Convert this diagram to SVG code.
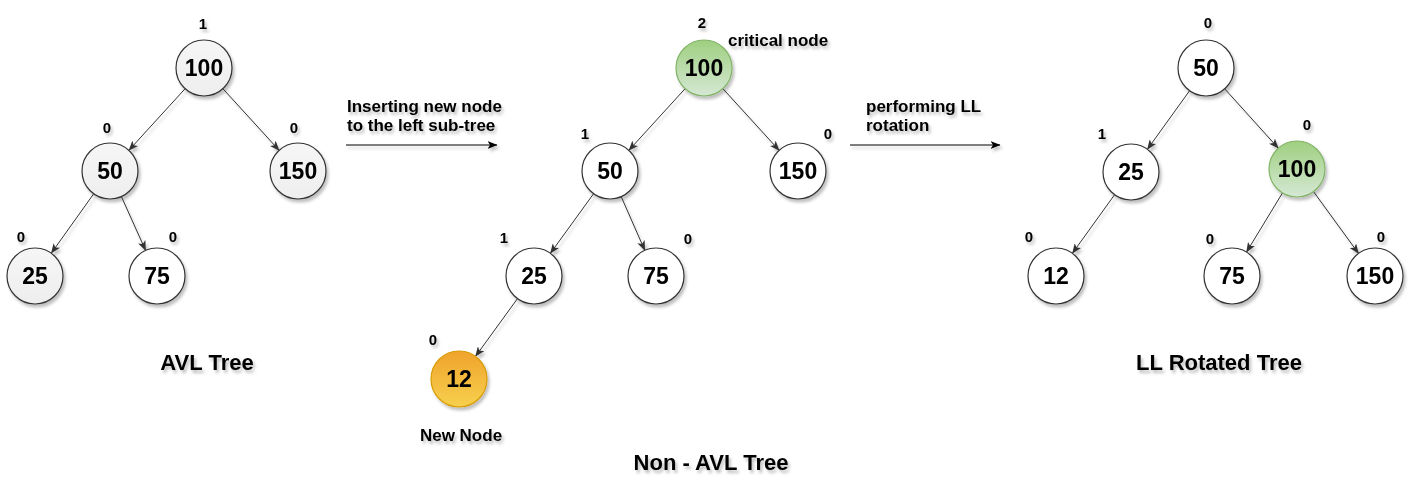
<svg xmlns="http://www.w3.org/2000/svg" width="1411" height="484" viewBox="0 0 1411 484">
<style>
text{font-family:"Liberation Sans",Arial,sans-serif;font-weight:bold;fill:#000}
.num{font-size:23px;text-anchor:middle}
.bal{font-size:15px;text-anchor:middle}
.lbl{font-size:17px}
.ttl{font-size:22px;text-anchor:middle}
.node{stroke:#333;stroke-width:1.2}
.gray{fill:url(#gGray)}
.white{fill:#fff}
.green{fill:url(#gGreen);stroke:#82b366}
.orange{fill:url(#gOrange);stroke:#d79b00}
.edge{stroke:#333;stroke-width:1;fill:none;marker-end:url(#arr)}
.flow{stroke:#000;stroke-width:1;fill:none;marker-end:url(#arrK)}
</style>
<defs>
<linearGradient id="gGray" x1="0" y1="0" x2="0" y2="1"><stop offset="0" stop-color="#f6f6f6"/><stop offset="1" stop-color="#eeeeee"/></linearGradient>
<linearGradient id="gGreen" x1="0" y1="0" x2="0" y2="1"><stop offset="0" stop-color="#9fcf80"/><stop offset="1" stop-color="#d5e8d4"/></linearGradient>
<linearGradient id="gOrange" x1="0" y1="0" x2="0" y2="1"><stop offset="0" stop-color="#efa32c"/><stop offset="1" stop-color="#f7d04e"/></linearGradient>
<filter id="sh" x="-20%" y="-20%" width="150%" height="150%"><feDropShadow dx="2" dy="3" stdDeviation="1.5" flood-color="#000" flood-opacity="0.25"/></filter>
<marker id="arr" markerUnits="userSpaceOnUse" markerWidth="10" markerHeight="8" refX="9.5" refY="4" orient="auto"><path d="M0,0 L10,4 L0,8 L2.5,4 Z" fill="#333"/></marker>
<marker id="arrK" markerUnits="userSpaceOnUse" markerWidth="10" markerHeight="8" refX="9.5" refY="4" orient="auto"><path d="M0,0 L10,4 L0,8 L2.5,4 Z" fill="#000"/></marker>
</defs>
<rect width="1411" height="484" fill="#fff"/>
<g filter="url(#sh)">
<g id="connectors">
<line class="edge" x1="185.1" y1="88.7" x2="128.9" y2="150.3"/>
<line class="edge" x1="222.9" y1="88.7" x2="279.1" y2="150.3"/>
<line class="edge" x1="93.7" y1="193.8" x2="51.3" y2="253.2"/>
<line class="edge" x1="121.4" y1="196.6" x2="145.6" y2="250.4"/>
<line class="edge" x1="685.1" y1="88.7" x2="628.9" y2="150.3"/>
<line class="edge" x1="722.9" y1="88.7" x2="779.1" y2="150.3"/>
<line class="edge" x1="593.6" y1="193.7" x2="550.4" y2="253.3"/>
<line class="edge" x1="621.2" y1="196.6" x2="644.8" y2="250.4"/>
<line class="edge" x1="517.5" y1="298.6" x2="475.5" y2="356.4"/>
<line class="edge" x1="1189.6" y1="90.7" x2="1147.4" y2="149.3"/>
<line class="edge" x1="1224.7" y1="88.8" x2="1278.3" y2="148.2"/>
<line class="edge" x1="1114.6" y1="194.7" x2="1072.4" y2="253.3"/>
<line class="edge" x1="1282.5" y1="192.9" x2="1246.5" y2="252.1"/>
<line class="edge" x1="1313.5" y1="191.6" x2="1358.5" y2="253.4"/>
<line class="flow" x1="346" y1="145" x2="497" y2="145"/>
<line class="flow" x1="850" y1="145" x2="1000" y2="145"/>
</g>
<g id="avl-tree">
<g id="a100"><circle class="node gray" cx="204" cy="68" r="28"/><text class="num" x="204" y="76">100</text><text class="bal" x="203" y="29">1</text></g>
<g id="a50"><circle class="node gray" cx="110" cy="171" r="28"/><text class="num" x="110" y="179">50</text><text class="bal" x="107" y="133">0</text></g>
<g id="a150"><circle class="node gray" cx="298" cy="171" r="28"/><text class="num" x="298" y="179">150</text><text class="bal" x="294" y="133">0</text></g>
<g id="a25"><circle class="node gray" cx="35" cy="276" r="28"/><text class="num" x="35" y="284">25</text><text class="bal" x="21" y="242">0</text></g>
<g id="a75"><circle class="node white" cx="157" cy="276" r="28"/><text class="num" x="157" y="284">75</text><text class="bal" x="173" y="242">0</text></g>
<text class="ttl" x="207" y="370">AVL Tree</text>
</g>
<g id="insert-label">
<text class="lbl" x="347" y="112">Inserting new node</text>
<text class="lbl" x="347" y="131">to the left sub-tree</text>
</g>
<g id="non-avl-tree">
<g id="b100"><circle class="node green" cx="704" cy="68" r="28"/><text class="num" x="704" y="76">100</text><text class="bal" x="702" y="28">2</text><text class="lbl" x="728" y="46">critical node</text></g>
<g id="b50"><circle class="node white" cx="610" cy="171" r="28"/><text class="num" x="610" y="179">50</text><text class="bal" x="585" y="139">1</text></g>
<g id="b150"><circle class="node white" cx="798" cy="171" r="28"/><text class="num" x="798" y="179">150</text><text class="bal" x="828" y="139">0</text></g>
<g id="b25"><circle class="node white" cx="534" cy="276" r="28"/><text class="num" x="534" y="284">25</text><text class="bal" x="504" y="243">1</text></g>
<g id="b75"><circle class="node white" cx="656" cy="276" r="28"/><text class="num" x="656" y="284">75</text><text class="bal" x="688" y="244">0</text></g>
<g id="b12"><circle class="node orange" cx="459" cy="379" r="28"/><text class="num" x="459" y="387">12</text><text class="bal" x="433" y="345">0</text><text class="lbl" x="461" y="441" text-anchor="middle">New Node</text></g>
<text class="ttl" x="711" y="470">Non - AVL Tree</text>
</g>
<g id="rotate-label">
<text class="lbl" x="866" y="112">performing LL</text>
<text class="lbl" x="866" y="131">rotation</text>
</g>
<g id="ll-tree">
<g id="c50"><circle class="node white" cx="1206" cy="68" r="28"/><text class="num" x="1206" y="76">50</text><text class="bal" x="1208" y="28">0</text></g>
<g id="c25"><circle class="node white" cx="1131" cy="172" r="28"/><text class="num" x="1131" y="180">25</text><text class="bal" x="1102" y="139">1</text></g>
<g id="c100"><circle class="node green" cx="1297" cy="169" r="28"/><text class="num" x="1297" y="177">100</text><text class="bal" x="1307" y="130">0</text></g>
<g id="c12"><circle class="node white" cx="1056" cy="276" r="28"/><text class="num" x="1056" y="284">12</text><text class="bal" x="1029" y="242">0</text></g>
<g id="c75"><circle class="node white" cx="1232" cy="276" r="28"/><text class="num" x="1232" y="284">75</text><text class="bal" x="1210" y="244">0</text></g>
<g id="c150"><circle class="node white" cx="1375" cy="276" r="28"/><text class="num" x="1375" y="284">150</text><text class="bal" x="1381" y="242">0</text></g>
<text class="ttl" x="1219" y="370">LL Rotated Tree</text>
</g>
</g>
</svg>
